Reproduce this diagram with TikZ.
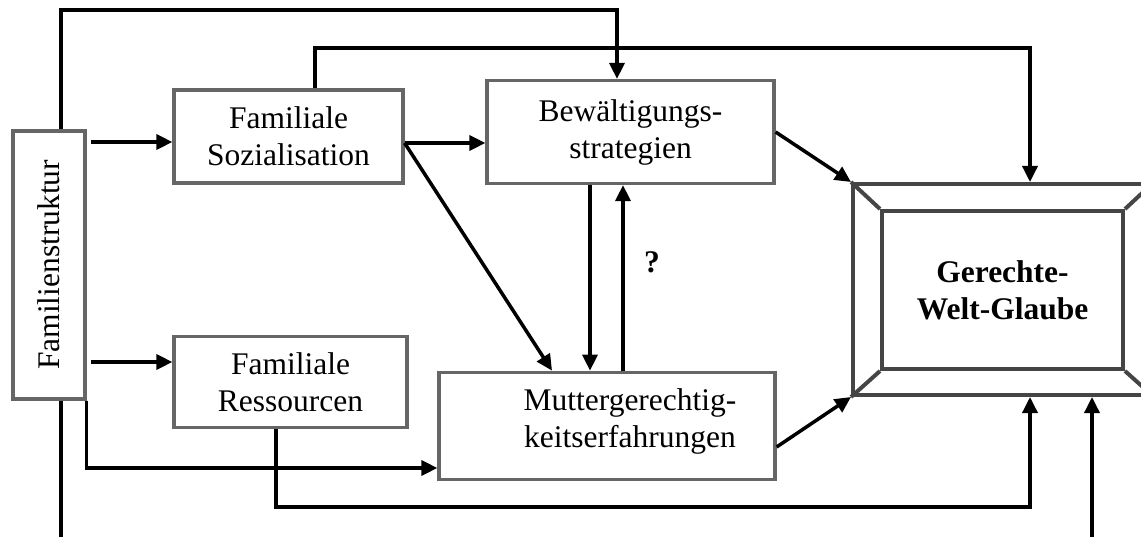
\documentclass[tikz,border=0pt]{standalone}
\usepackage{fontspec}
\setmainfont{Liberation Serif}
\usetikzlibrary{arrows.meta,calc}
\definecolor{boxgray}{HTML}{666666}
\definecolor{bevgray}{HTML}{454545}
\begin{document}
\begin{tikzpicture}[x=1pt,y=-1pt,
  every node/.style={font=\fontsize{31.5}{37}\selectfont},
  box/.style={draw=boxgray, line width=3.2pt, inner sep=0pt, align=center},
  bev/.style={draw=bevgray, line width=4pt, inner sep=0pt, align=center},
  conn/.style={line width=3.5pt, draw=black},
  arr/.style={conn, -{Triangle[length=16pt,width=15pt]}},
  lbl/.style={align=center, inner sep=0pt}]
\useasboundingbox (0,0) rectangle (1141,537);
\clip (0,0) rectangle (1141,537);

% nodes
\node[box, minimum width=72pt, minimum height=268pt] (fs) at (49,265) {};
\node[lbl, rotate=90] (fslbl) at (49,265) {Familienstruktur};
\node[box, minimum width=229pt, minimum height=93pt] (soz) at (288.5,136.5) {Familiale\\Sozialisation};
\node[box, minimum width=233pt, minimum height=91pt] (res) at (290.5,382) {Familiale\\Ressourcen};
\node[box, minimum width=287pt, minimum height=103pt] (bew) at (630.5,132) {Bewältigungs-\\strategien};
\node[box, minimum width=336pt, minimum height=107.5pt] (mut) at (607,426) {};
\node[lbl] (mutlbl) at (630,421) {Muttergerechtig-\\keitserfahrungen};
\node[bev, minimum width=299pt, minimum height=211pt] (gwg) at (1002.5,289.5) {};
\node[bev, minimum width=241pt, minimum height=158pt, font=\fontsize{31.5}{37}\selectfont\bfseries] (gwgin) at (1002.5,290) {Gerechte-\\Welt-Glaube};
\draw[bev] (gwg.north west) -- (gwgin.north west)
           (gwg.north east) -- (gwgin.north east)
           (gwg.south west) -- (gwgin.south west)
           (gwg.south east) -- (gwgin.south east);
\node[lbl, font=\fontsize{31.5}{37}\selectfont\bfseries] (q) at (652,262) {?};

% free ends
\coordinate (fsA) at (91,142);
\coordinate (fsB) at (91,362);
\coordinate (bottomL) at (61,550);
\coordinate (bottomR) at (1092,550);

% connectors
\draw[arr] (fs.north -| 61,0) |- (617,10) -- (bew.north -| 617,0);
\draw[arr] (soz.north -| 315,0) |- (1030,48) -- (gwg.north -| 1030,0);
\draw[arr] (fsA) -- (soz.west |- fsA);
\draw[arr] (fsB) -- (res.west |- fsB);
\draw[arr] (fs.south east) |- (mut.west |- 0,468);
\draw[conn] (fs.south -| 61,0) -- (bottomL);
\draw[arr] (bottomR) -- (gwg.south -| bottomR);
\draw[arr] (res.south -| 276,0) |- (1030,507) -- (gwg.south -| 1030,0);
\draw[arr] (soz.east |- 0,143) -- (bew.west |- 0,143);
\draw[arr] (soz.east |- 0,143) -- (mut.north -| 552,0);
\draw[arr] (bew.south -| 590,0) -- (mut.north -| 590,0);
\draw[arr] (mut.north -| 623,0) -- (bew.south -| 623,0);
\draw[arr] (bew.east) -- (gwg.north west);
\draw[arr] (mut.east |- 0,447) -- (gwg.south west);
\end{tikzpicture}
\end{document}
